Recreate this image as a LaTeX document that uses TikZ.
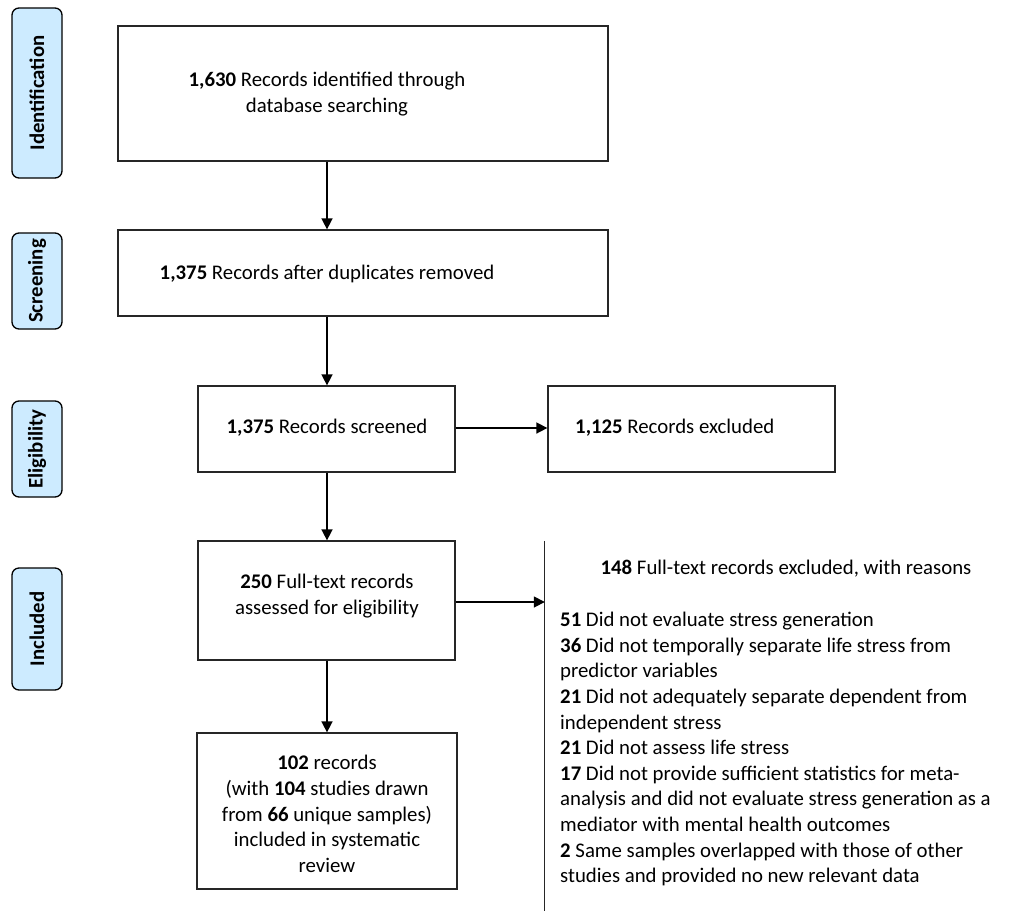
\documentclass[tikz,border=0pt]{standalone}
\usepackage{fontspec}
\setmainfont{Carlito}
\usetikzlibrary{arrows.meta,calc}
\definecolor{lblue}{HTML}{CDEBFF}
\begin{document}
\begin{tikzpicture}[x=1pt,y=-1pt,
  every node/.style={font=\fontsize{20.8}{25.6}\selectfont},
  box/.style={draw=black!85,line width=1.3pt,inner sep=0pt},
  txt/.style={align=center,inner sep=0pt},
  phase/.style={draw=black,fill=lblue,line width=1.3pt,rounded corners=7pt,rotate=90,minimum height=50pt,inner sep=0pt,font=\fontsize{20.8}{25.6}\selectfont\bfseries},
  arr/.style={line width=1.6pt,-{Triangle[length=11pt,width=11pt]}}]
\useasboundingbox (0,0) rectangle (1014,911);
% phase labels
\node[phase,minimum width=170pt] (pid) at (37,93) {Identification};
\node[phase,minimum width=96pt] (psc) at (37,281) {Screening};
\node[phase,minimum width=96pt] (pel) at (37,449) {Eligibility};
\node[phase,minimum width=122pt] (pin) at (37,629) {Included};
% boxes
\node[box,minimum width=490pt,minimum height=135pt] (b1) at (363,93.5) {};
\node[txt] (t1) at (327,94) {\textbf{1,630} Records identified through\\database searching};
\node[box,minimum width=490pt,minimum height=86pt] (b2) at (363,273) {};
\node[txt] (t2) at (327,274) {\textbf{1,375} Records after duplicates removed};
\node[box,minimum width=257pt,minimum height=86pt] (b3) at (326.5,429) {};
\node[txt] (t3) at (327,428) {\textbf{1,375} Records screened};
\node[box,minimum width=287pt,minimum height=86pt] (b4) at (691.5,429) {};
\node[txt,anchor=west] (t4) at (575,428) {\textbf{1,125} Records excluded};
\node[box,minimum width=257pt,minimum height=119pt] (b5) at (326.5,600.5) {};
\node[txt] (t5) at (327,596) {\textbf{250} Full-text records\\assessed for eligibility};
\node[box,minimum width=260pt,minimum height=156pt] (b6) at (327,811) {};
\node[txt] (t6) at (327,814) {\textbf{102} records\\(with \textbf{104} studies drawn\\from \textbf{66} unique samples)\\included in systematic\\review};
% excluded with reasons (box cut by the picture edge)
\node[inner sep=0pt,minimum width=469pt,minimum height=370pt] (b7) at (779.5,726) {};
\draw[line width=1.3pt,black!85] (b7.north west) -- (b7.south west);
\node[txt] (t7h) at (786,569) {\textbf{148} Full-text records excluded, with reasons};
\node[txt,anchor=north west,align=left] (t7) at (560,612) {\textbf{51} Did not evaluate stress generation\\
\textbf{36} Did not temporally separate life stress from\\
predictor variables\\
\textbf{21} Did not adequately separate dependent from\\
independent stress\\
\textbf{21} Did not assess life stress\\
\textbf{17} Did not provide sufficient statistics for meta-\\
analysis and did not evaluate stress generation as a\\
mediator with mental health outcomes\\
\textbf{2} Same samples overlapped with those of other\\
studies and provided no new relevant data};
% connectors
\draw[arr] (t1 |- b1.south) -- (t2 |- b2.north);
\draw[arr] (t2 |- b2.south) -- (t3 |- b3.north);
\draw[arr] (b3.east |- t3) -- (b4.west |- t3);
\draw[arr] (t3 |- b3.south) -- (t5 |- b5.north);
\draw[arr] (b5.east |- 0,602) -- (b7.west |- 0,602);
\draw[arr] (t5 |- b5.south) -- (t6 |- b6.north);
\end{tikzpicture}
\end{document}
